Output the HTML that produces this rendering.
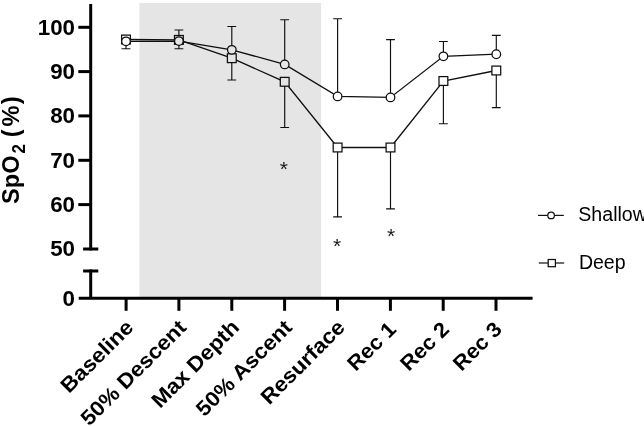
<!DOCTYPE html>
<html><head><meta charset="utf-8"><title>SpO2 chart</title>
<style>
html,body{margin:0;padding:0;background:#fff;}
body{width:644px;height:426px;overflow:hidden;}
svg{display:block;}
text{font-family:"Liberation Sans",Arial,Helvetica,sans-serif;fill:#000;}
.b{font-weight:bold;}
</style></head><body>
<svg width="644" height="426" viewBox="0 0 644 426">
<rect x="0" y="0" width="644" height="426" fill="#ffffff"/>

<path d="M126.0 41.3V35.7M121.6 35.7H130.4" stroke="#101010" stroke-width="1.15" fill="none"/>
<path d="M126.0 39.5V48.7M121.6 48.7H130.4" stroke="#101010" stroke-width="1.15" fill="none"/>
<path d="M178.9 41.1V30.0M174.5 30.0H183.3" stroke="#101010" stroke-width="1.15" fill="none"/>
<path d="M178.9 39.9V48.7M174.5 48.7H183.3" stroke="#101010" stroke-width="1.15" fill="none"/>
<path d="M231.8 49.8V26.5M227.4 26.5H236.2" stroke="#101010" stroke-width="1.15" fill="none"/>
<path d="M231.8 58.2V80.0M227.4 80.0H236.2" stroke="#101010" stroke-width="1.15" fill="none"/>
<path d="M284.7 64.4V19.7M280.3 19.7H289.1" stroke="#101010" stroke-width="1.15" fill="none"/>
<path d="M284.7 81.8V127.5M280.3 127.5H289.1" stroke="#101010" stroke-width="1.15" fill="none"/>
<path d="M337.6 96.4V18.7M333.2 18.7H342.0" stroke="#101010" stroke-width="1.15" fill="none"/>
<path d="M337.6 147.5V216.8M333.2 216.8H342.0" stroke="#101010" stroke-width="1.15" fill="none"/>
<path d="M390.5 97.4V39.6M386.1 39.6H394.9" stroke="#101010" stroke-width="1.15" fill="none"/>
<path d="M390.5 147.5V208.8M386.1 208.8H394.9" stroke="#101010" stroke-width="1.15" fill="none"/>
<path d="M443.4 56.3V41.5M439.0 41.5H447.8" stroke="#101010" stroke-width="1.15" fill="none"/>
<path d="M443.4 81.0V123.7M439.0 123.7H447.8" stroke="#101010" stroke-width="1.15" fill="none"/>
<path d="M496.3 54.2V35.3M491.9 35.3H500.7" stroke="#101010" stroke-width="1.15" fill="none"/>
<path d="M496.3 70.5V107.6M491.9 107.6H500.7" stroke="#101010" stroke-width="1.15" fill="none"/>
<polyline points="126.0,39.5 178.9,39.9 231.8,58.2 284.7,81.8 337.6,147.5 390.5,147.5 443.4,81.0 496.3,70.5" fill="none" stroke="#101010" stroke-width="1.3"/>
<polyline points="126.0,41.3 178.9,41.1 231.8,49.8 284.7,64.4 337.6,96.4 390.5,97.4 443.4,56.3 496.3,54.2" fill="none" stroke="#101010" stroke-width="1.3"/>
<rect x="121.6" y="35.1" width="8.8" height="8.8" fill="#fff" stroke="#101010" stroke-width="1.25"/>
<rect x="174.5" y="35.5" width="8.8" height="8.8" fill="#fff" stroke="#101010" stroke-width="1.25"/>
<rect x="227.4" y="53.8" width="8.8" height="8.8" fill="#fff" stroke="#101010" stroke-width="1.25"/>
<rect x="280.3" y="77.4" width="8.8" height="8.8" fill="#fff" stroke="#101010" stroke-width="1.25"/>
<rect x="333.2" y="143.1" width="8.8" height="8.8" fill="#fff" stroke="#101010" stroke-width="1.25"/>
<rect x="386.1" y="143.1" width="8.8" height="8.8" fill="#fff" stroke="#101010" stroke-width="1.25"/>
<rect x="439.0" y="76.6" width="8.8" height="8.8" fill="#fff" stroke="#101010" stroke-width="1.25"/>
<rect x="491.9" y="66.1" width="8.8" height="8.8" fill="#fff" stroke="#101010" stroke-width="1.25"/>
<circle cx="126.0" cy="41.3" r="4.3" fill="#fff" stroke="#101010" stroke-width="1.25"/>
<circle cx="178.9" cy="41.1" r="4.3" fill="#fff" stroke="#101010" stroke-width="1.25"/>
<circle cx="231.8" cy="49.8" r="4.3" fill="#fff" stroke="#101010" stroke-width="1.25"/>
<circle cx="284.7" cy="64.4" r="4.3" fill="#fff" stroke="#101010" stroke-width="1.25"/>
<circle cx="337.6" cy="96.4" r="4.3" fill="#fff" stroke="#101010" stroke-width="1.25"/>
<circle cx="390.5" cy="97.4" r="4.3" fill="#fff" stroke="#101010" stroke-width="1.25"/>
<circle cx="443.4" cy="56.3" r="4.3" fill="#fff" stroke="#101010" stroke-width="1.25"/>
<circle cx="496.3" cy="54.2" r="4.3" fill="#fff" stroke="#101010" stroke-width="1.25"/>
<rect x="139.4" y="3" width="181.7" height="294" fill="#000" fill-opacity="0.1"/>
<g stroke="#000" stroke-width="3" fill="none">
<path d="M90.7 4V250.4"/>
<path d="M90.7 269.5V298.2"/>
<path d="M83.1 248.9H98.3M83.1 271H98.3"/>
<path d="M78.3 27.3H90.7"/>
<path d="M78.3 71.6H90.7"/>
<path d="M78.3 115.9H90.7"/>
<path d="M78.3 160.3H90.7"/>
<path d="M78.3 204.6H90.7"/>
<path d="M78.7 298.15H532.6"/>
<path d="M126.1 298V310.8"/>
<path d="M178.9 298V310.8"/>
<path d="M231.8 298V310.8"/>
<path d="M284.6 298V310.8"/>
<path d="M337.5 298V310.8"/>
<path d="M390.4 298V310.8"/>
<path d="M443.2 298V310.8"/>
<path d="M496.0 298V310.8"/>
</g>
<text class="b" transform="translate(75 34.6) scale(1.045 1)" font-size="21.4" text-anchor="end">100</text>
<text class="b" transform="translate(75 78.9) scale(1.045 1)" font-size="21.4" text-anchor="end">90</text>
<text class="b" transform="translate(75 123.2) scale(1.045 1)" font-size="21.4" text-anchor="end">80</text>
<text class="b" transform="translate(75 167.6) scale(1.045 1)" font-size="21.4" text-anchor="end">70</text>
<text class="b" transform="translate(75 211.9) scale(1.045 1)" font-size="21.4" text-anchor="end">60</text>
<text class="b" transform="translate(75 256.2) scale(1.045 1)" font-size="21.4" text-anchor="end">50</text>
<text class="b" transform="translate(75 305.5) scale(1.045 1)" font-size="21.4" text-anchor="end">0</text>
<text class="b" font-size="24.6" transform="translate(19 204) rotate(-90) scale(0.96 1)">SpO<tspan font-size="17.5" dy="5.5" dx="2">2</tspan><tspan dy="-5.5" dx="-1.2 0 1.5 0" letter-spacing="1.5"> (%)</tspan></text>
<text class="b" font-size="21" text-anchor="end" transform="translate(134.6 328.6) rotate(-45) scale(1.073 1)">Baseline</text>
<text class="b" font-size="21" text-anchor="end" transform="translate(187.5 328.6) rotate(-45) scale(1.073 1)">50% Descent</text>
<text class="b" font-size="21" text-anchor="end" transform="translate(240.4 328.6) rotate(-45) scale(1.073 1)">Max Depth</text>
<text class="b" font-size="21" text-anchor="end" transform="translate(293.3 328.6) rotate(-45) scale(1.073 1)">50% Ascent</text>
<text class="b" font-size="21" text-anchor="end" transform="translate(346.2 328.6) rotate(-45) scale(1.073 1)">Resurface</text>
<text class="b" font-size="21" text-anchor="end" transform="translate(397.4 330.5) rotate(-45) scale(1.05 1)">Rec 1</text>
<text class="b" font-size="21" text-anchor="end" transform="translate(450.3 330.5) rotate(-45) scale(1.05 1)">Rec 2</text>
<text class="b" font-size="21" text-anchor="end" transform="translate(503.2 330.5) rotate(-45) scale(1.05 1)">Rec 3</text>
<text font-size="21" style="fill:#1a1a1a" text-anchor="middle" x="283.9" y="176.1">*</text>
<text font-size="21" style="fill:#1a1a1a" text-anchor="middle" x="337.0" y="253.0">*</text>
<text font-size="21" style="fill:#1a1a1a" text-anchor="middle" x="391" y="242.6">*</text>
<path d="M538 215.4H563.8" stroke="#101010" stroke-width="1.2"/>
<circle cx="551.1" cy="215.4" r="3.3" fill="#fff" stroke="#101010" stroke-width="1.25"/>
<path d="M538.8 263H564.2" stroke="#101010" stroke-width="1.2"/>
<rect x="548.2" y="259.5" width="7.2" height="7.2" fill="#fff" stroke="#101010" stroke-width="1.25"/>
<text font-size="19.6" x="578.3" y="221.3">Shallow</text>
<text font-size="19.5" x="578.9" y="268.8">Deep</text>
</svg></body></html>
